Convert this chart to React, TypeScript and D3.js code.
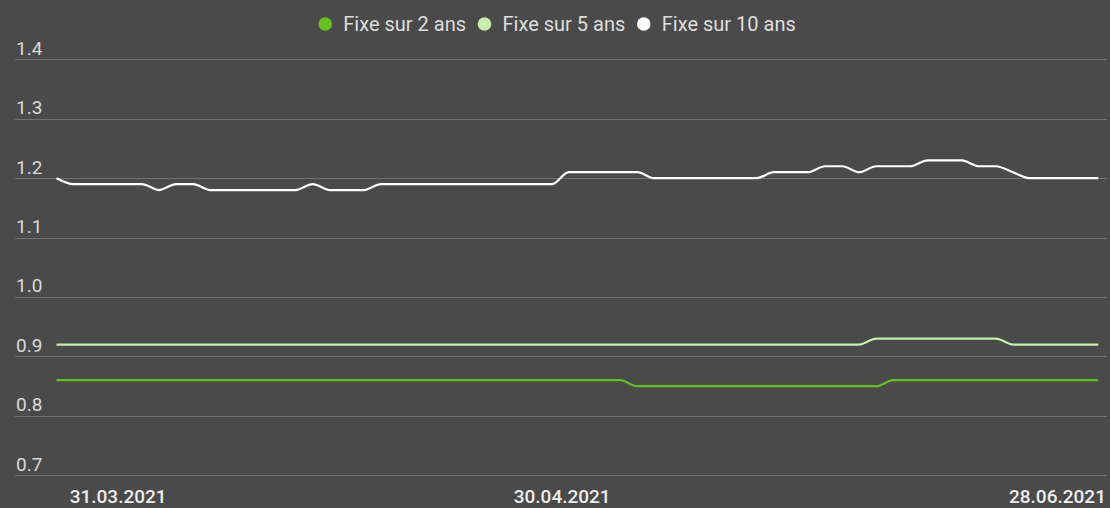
import React, { useEffect, useRef } from "react";
import * as d3 from "d3";

// series names and colours (legend order)
const seriesNames = ["Fixe sur 2 ans", "Fixe sur 5 ans", "Fixe sur 10 ans"];
const seriesColors = ["#62c11e", "#c5efaa", "#ffffff"];

// rates in %, one value per observation (62 points)
const fixe2 = [
  0.86, 0.86, 0.86, 0.86, 0.86, 0.86, 0.86, 0.86, 0.86, 0.86,
  0.86, 0.86, 0.86, 0.86, 0.86, 0.86, 0.86, 0.86, 0.86, 0.86,
  0.86, 0.86, 0.86, 0.86, 0.86, 0.86, 0.86, 0.86, 0.86, 0.86,
  0.86, 0.86, 0.86, 0.86, 0.85, 0.85, 0.85, 0.85, 0.85, 0.85,
  0.85, 0.85, 0.85, 0.85, 0.85, 0.85, 0.85, 0.85, 0.85, 0.86,
  0.86, 0.86, 0.86, 0.86, 0.86, 0.86, 0.86, 0.86, 0.86, 0.86,
  0.86, 0.86,
];
const fixe5 = [
  0.92, 0.92, 0.92, 0.92, 0.92, 0.92, 0.92, 0.92, 0.92, 0.92,
  0.92, 0.92, 0.92, 0.92, 0.92, 0.92, 0.92, 0.92, 0.92, 0.92,
  0.92, 0.92, 0.92, 0.92, 0.92, 0.92, 0.92, 0.92, 0.92, 0.92,
  0.92, 0.92, 0.92, 0.92, 0.92, 0.92, 0.92, 0.92, 0.92, 0.92,
  0.92, 0.92, 0.92, 0.92, 0.92, 0.92, 0.92, 0.92, 0.93, 0.93,
  0.93, 0.93, 0.93, 0.93, 0.93, 0.93, 0.92, 0.92, 0.92, 0.92,
  0.92, 0.92,
];
const fixe10 = [
  1.2, 1.19, 1.19, 1.19, 1.19, 1.19, 1.18, 1.19, 1.19, 1.18,
  1.18, 1.18, 1.18, 1.18, 1.18, 1.19, 1.18, 1.18, 1.18, 1.19,
  1.19, 1.19, 1.19, 1.19, 1.19, 1.19, 1.19, 1.19, 1.19, 1.19,
  1.21, 1.21, 1.21, 1.21, 1.21, 1.2, 1.2, 1.2, 1.2, 1.2,
  1.2, 1.2, 1.21, 1.21, 1.21, 1.22, 1.22, 1.21, 1.22, 1.22,
  1.22, 1.23, 1.23, 1.23, 1.22, 1.22, 1.21, 1.2, 1.2, 1.2,
  1.2, 1.2,
];

// x tick labels and the observation they belong to
const xTickLabels = ["31.03.2021", "30.04.2021", "28.06.2021"];
const xTickIndex = [3, 29, 58];

const yTicks = [0.7, 0.8, 0.9, 1.0, 1.1, 1.2, 1.3, 1.4];

const App = () => {
  const svgRef = useRef<SVGSVGElement>(null);

  useEffect(() => {
    const svg = d3.select(svgRef.current);
    svg.selectAll("*").remove();

    const width = 1110;
    const height = 508;
    const font = "Roboto, 'Noto Sans', sans-serif";

    svg.append("rect")
      .attr("width", width)
      .attr("height", height)
      .attr("fill", "#4a4a4a");

    const series = [fixe2, fixe5, fixe10];

    const x = d3.scaleLinear()
      .domain([0, fixe10.length - 1])
      .range([56.5, 1098.3]);

    const y = d3.scaleLinear()
      .domain([0.7, 1.4])
      .range([475.3, 59.3]);

    // grid + y labels
    const grid = svg.append("g");
    yTicks.forEach((t) => {
      grid.append("line")
        .attr("x1", 15)
        .attr("x2", 1107)
        .attr("y1", Math.round(y(t)) + 0.5)
        .attr("y2", Math.round(y(t)) + 0.5)
        .attr("stroke", "#707070")
        .attr("stroke-width", 1);

      grid.append("text")
        .attr("x", 16)
        .attr("y", y(t) - 4.6)
        .style("fill", "#d9d9d9")
        .style("font-family", font)
        .style("font-size", "19px")
        .text(t.toFixed(1));
    });

    // x labels
    xTickLabels.forEach((label, i) => {
      svg.append("text")
        .attr("x", x(xTickIndex[i]) + 10.4)
        .attr("y", 503)
        .attr("text-anchor", "middle")
        .style("fill", "#eeeeee")
        .style("font-family", font)
        .style("font-size", "19px")
        .style("font-weight", 500)
        .text(label);
    });

    // lines
    const line = d3.line<number>()
      .x((d, i) => x(i))
      .y((d) => y(d))
      .curve(d3.curveMonotoneX);

    series.forEach((s, i) => {
      svg.append("path")
        .datum(s)
        .attr("fill", "none")
        .attr("stroke", seriesColors[i])
        .attr("stroke-width", 2.2)
        .attr("stroke-linejoin", "round")
        .attr("d", line);
    });

    // legend, centred at the top
    const legend = svg.append("g");
    const items = seriesNames.map((name, i) => {
      const g = legend.append("g");
      g.append("circle")
        .attr("cx", 0)
        .attr("cy", 24)
        .attr("r", 6.8)
        .attr("fill", seriesColors[i]);
      const txt = g.append("text")
        .attr("x", 18)
        .attr("y", 31)
        .style("fill", "#dedede")
        .style("font-family", font)
        .style("font-size", "20px")
        .text(name);
      const w = (txt.node() as SVGTextElement).getComputedTextLength();
      return { g, w: 18 + w + 18.5 };
    });
    const total = d3.sum(items, (d) => d.w) - 18.5 + 7;
    let cx = width / 2 + 2 - total / 2 + 7;
    items.forEach((it) => {
      it.g.attr("transform", `translate(${cx}, 0)`);
      cx += it.w;
    });
  }, []);

  return (
    <svg
      ref={svgRef}
      width={1110}
      height={508}
      style={{ position: "absolute", left: 0, top: 0, display: "block" }}
    ></svg>
  );
};

export default App;
